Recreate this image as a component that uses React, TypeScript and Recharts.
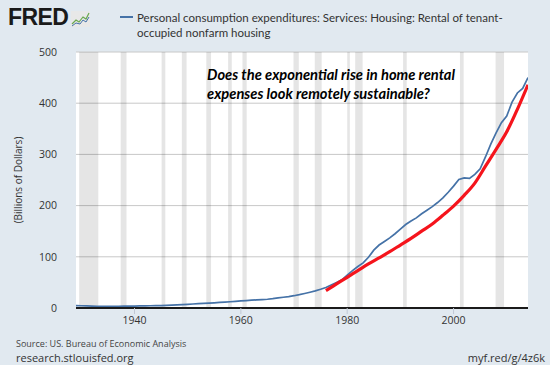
import React from "react";
import {
  ComposedChart,
  Line,
  XAxis,
  YAxis,
  CartesianGrid,
  ReferenceArea,
} from "recharts";

const firstYear = 1929;
// Rental of tenant-occupied nonfarm housing, billions of dollars, 1929-2014
const rentValues = [
  4.6, 4.4, 4.0, 3.6, 3.2, 3.0, 3.0, 3.1, 3.3, 3.5,
  3.6, 3.8, 4.0, 4.3, 4.4, 4.5, 4.7, 5.0, 5.5, 6.0,
  6.5, 7.2, 7.8, 8.4, 9.0, 9.6, 10.2, 10.8, 11.5, 12.2,
  13.0, 13.8, 14.5, 15.2, 15.8, 16.4, 17.1, 18.2, 19.6, 21.0,
  22.3, 24.0, 26.0, 28.3, 30.8, 33.5, 36.5, 40.0, 45.0, 50.0,
  55.0, 64.0, 73.0, 81.0, 88.0, 99.0, 113, 123, 130, 137,
  145, 154, 163, 170, 176, 184, 191, 198, 206, 215,
  226, 238, 251, 254, 253, 261, 272, 295, 320, 342,
  362, 375, 402, 420, 429, 450,
];

// hand-drawn red trend line
const trendYears = [
  1976, 1978, 1980, 1982, 1984, 1986, 1988, 1990, 1992, 1994,
  1996, 1998, 2000, 2002, 2004, 2006, 2008, 2010, 2012, 2014,
];
const trendValues = [
  34, 47, 60, 73, 86, 98, 110, 123, 136, 150,
  164, 181, 199, 220, 244, 277, 310, 344, 388, 436,
];

const recessionStart = [
  1929.6, 1937.4, 1945.1, 1948.9, 1953.5, 1957.6, 1960.3, 1969.9,
  1973.9, 1980.0, 1981.5, 1990.5, 2001.2, 2007.9,
];
const recessionEnd = [
  1933.2, 1938.5, 1945.8, 1949.8, 1954.4, 1958.3, 1961.1, 1970.9,
  1975.2, 1980.5, 1982.9, 1991.2, 2001.9, 2009.5,
];

const xTicks = [1940, 1960, 1980, 2000];
const yTicks = [0, 100, 200, 300, 400, 500];

const rows = rentValues.map((v, i) => {
  const year = firstYear + i;
  const t = trendYears.indexOf(year);
  return { year, rent: v, trend: t >= 0 ? trendValues[t] : undefined };
});

const font = "'Open Sans', 'Noto Sans', sans-serif";

function FredLogo() {
  return (
    <div style={{ position: "absolute", left: 8, top: 5, display: "flex", alignItems: "flex-end" }}>
      <span
        style={{
          fontFamily: "'Liberation Sans', Arial, sans-serif",
          fontWeight: 900,
          fontSize: 23,
          letterSpacing: -0.6,
          color: "#1a1a1a",
          lineHeight: "24px",
        }}
      >
        FRED
      </span>
      <svg width={19} height={16} style={{ marginLeft: 3, marginBottom: 2 }}>
        <rect x={0} y={0} width={19} height={16} fill="#e8e8e8" />
        <polyline points="1,13 5,9 8,11 12,6 15,8 18,2" fill="none" stroke="#6aa84f" strokeWidth={1.2} />
        <polyline points="1,15 5,12 9,13 12,9 15,11 18,6" fill="none" stroke="#4572a7" strokeWidth={1} />
      </svg>
    </div>
  );
}

export default function App() {
  return (
    <div
      style={{
        position: "absolute",
        left: 0,
        top: 0,
        width: 550,
        height: 365,
        background: "#e1e9f0",
        fontFamily: font,
        overflow: "hidden",
      }}
    >
      <FredLogo />
      <div style={{ position: "absolute", left: 120, top: 16, width: 13, height: 2, background: "#4572a7" }} />
      <div
        style={{
          position: "absolute",
          left: 137,
          top: 10,
          fontFamily: "Lato, 'Open Sans', sans-serif",
          fontSize: 11.5,
          lineHeight: "15px",
          color: "#333",
          whiteSpace: "nowrap",
        }}
      >
        Personal consumption expenditures: Services: Housing: Rental of tenant-
        <br />
        occupied nonfarm housing
      </div>

      <ComposedChart
        width={550}
        height={365}
        data={rows}
        margin={{ top: 52, right: 22, bottom: 32, left: 0 }}
        style={{ position: "absolute", left: 0, top: 0 }}
      >
        <CartesianGrid vertical={false} stroke="#c8c8c8" fill="#ffffff" />
        {recessionStart.map((s, i) => (
          <ReferenceArea
            key={i}
            x1={s}
            x2={recessionEnd[i]}
            fill="#000000"
            fillOpacity={0.1}
            stroke="none"
            ifOverflow="hidden"
          />
        ))}
        <XAxis
          dataKey="year"
          type="number"
          domain={[1929, 2014]}
          ticks={xTicks}
          allowDataOverflow
          axisLine={{ stroke: "#1a1a1a", strokeWidth: 2 }}
          tickLine={{ stroke: "#c0c8d4" }}
          tickSize={6}
          tickMargin={3}
          height={25}
          tick={{ fontSize: 10.5, fill: "#333", fontFamily: font }}
        />
        <YAxis
          type="number"
          domain={[0, 500]}
          ticks={yTicks}
          width={76}
          axisLine={false}
          tickLine={false}
          tickSize={0}
          tickMargin={19}
          tick={{ fontSize: 10.5, fill: "#333", fontFamily: font }}
        />
        <Line
          dataKey="rent"
          type="linear"
          stroke="#4572a7"
          strokeWidth={1.7}
          dot={false}
          isAnimationActive={false}
        />
        <Line
          dataKey="trend"
          type="monotone"
          stroke="#f5141c"
          strokeWidth={3.2}
          dot={false}
          connectNulls
          isAnimationActive={false}
        />
      </ComposedChart>

      <div
        style={{
          position: "absolute",
          left: 18,
          top: 180,
          transform: "translate(-50%, -50%) rotate(-90deg)",
          fontSize: 10,
          color: "#333",
          whiteSpace: "nowrap",
        }}
      >
        (Billions of Dollars)
      </div>

      <div
        style={{
          position: "absolute",
          left: 207,
          top: 65,
          fontFamily: "Lato, 'Open Sans', sans-serif",
          fontWeight: 700,
          fontStyle: "italic",
          fontSize: 14.7,
          lineHeight: "19px",
          color: "#000",
          whiteSpace: "nowrap",
        }}
      >
        Does the exponential rise in home rental
        <br />
        expenses look remotely sustainable?
      </div>

      <div style={{ position: "absolute", left: 16, top: 338, fontSize: 9, lineHeight: "12px", color: "#444", whiteSpace: "nowrap" }}>
        Source: US. Bureau of Economic Analysis
      </div>
      <div style={{ position: "absolute", left: 16, top: 351, fontSize: 11, lineHeight: "13px", color: "#333", whiteSpace: "nowrap" }}>
        research.stlouisfed.org
      </div>
      <div style={{ position: "absolute", right: 5, top: 351, fontSize: 11, lineHeight: "13px", color: "#333", whiteSpace: "nowrap" }}>
        myf.red/g/4z6k
      </div>
    </div>
  );
}
